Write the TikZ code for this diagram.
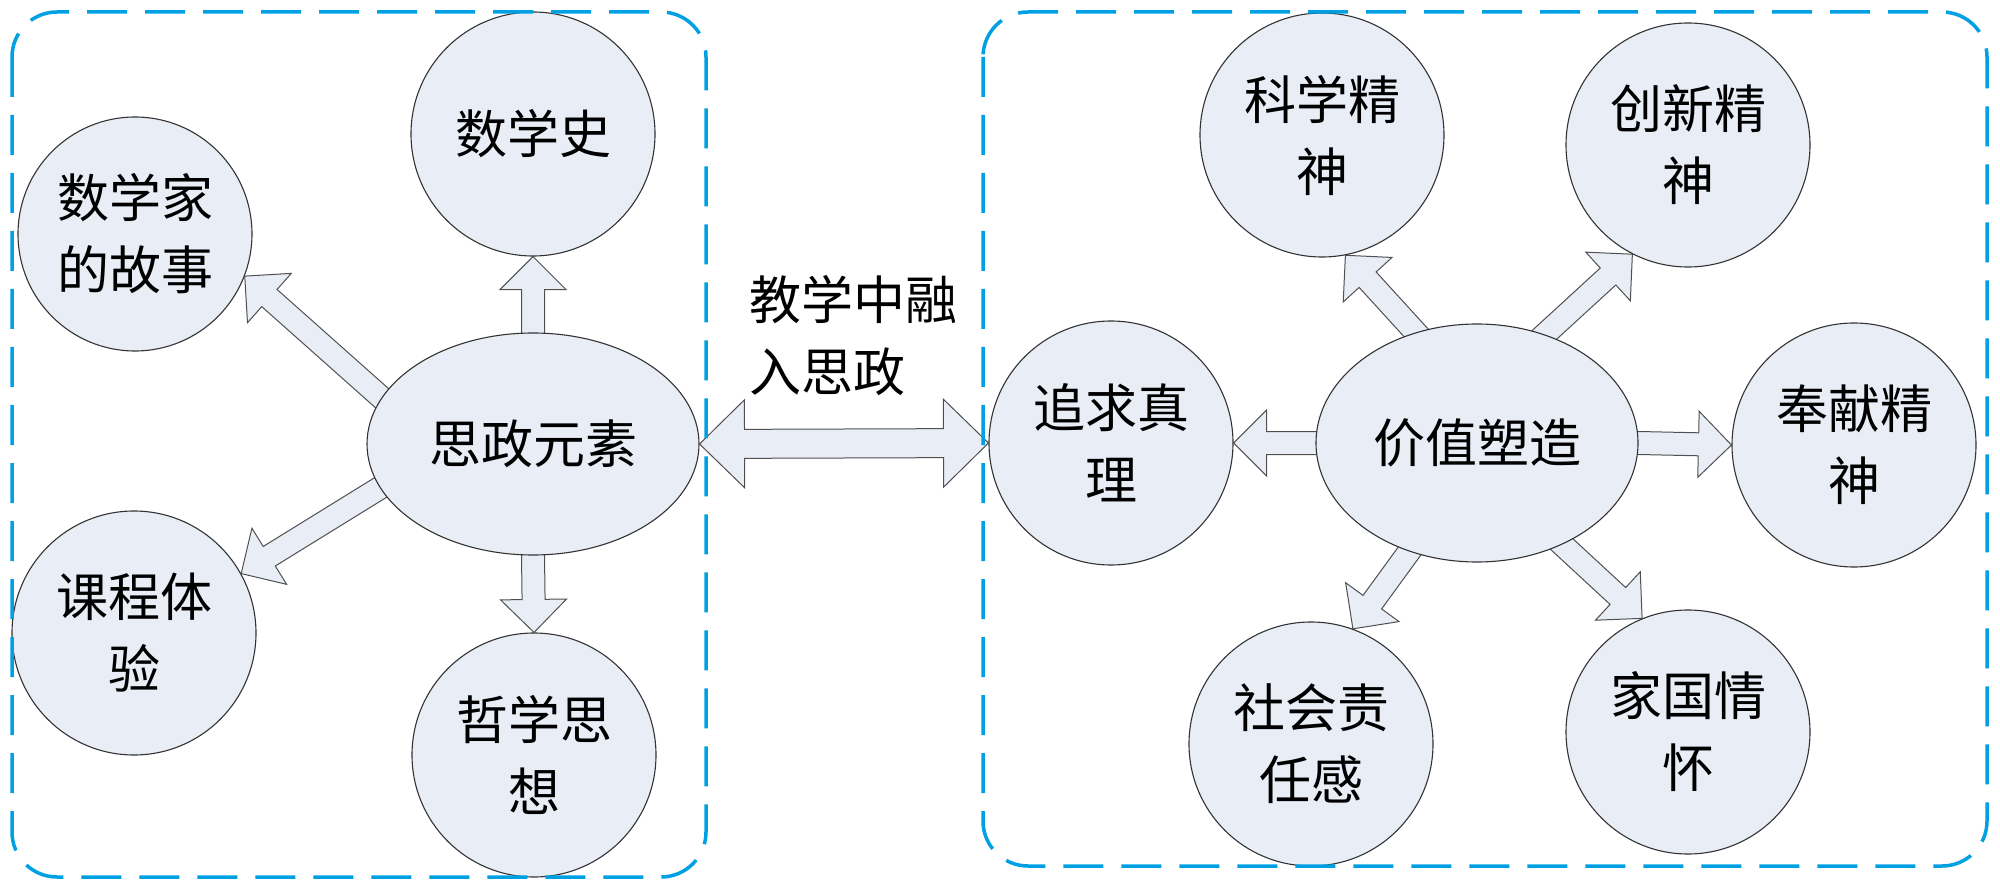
\documentclass[tikz,border=0pt]{standalone}
\usepackage{fontspec}
\newfontfamily\cjkfont{Noto Sans CJK SC}
\usetikzlibrary{shapes.geometric,calc}
\pgfdeclarelayer{bg}
\pgfsetlayers{bg,main}
\definecolor{boxblue}{RGB}{0,160,226}
\definecolor{nodefill}{RGB}{232,237,246}
\definecolor{arrline}{RGB}{80,80,80}
\tikzset{
  bubble/.style={ellipse, draw=black!80, line width=1.1pt, fill=nodefill, inner sep=0pt,
    align=center, font=\cjkfont\fontsize{52}{72}\selectfont},
  groupbox/.style={draw=boxblue, line width=3.5pt, dash pattern=on 40pt off 18pt, rounded corners=45pt},
  blockarrow/.style={draw=arrline, line width=1pt, fill=nodefill, line join=miter},
  caption/.style={font=\cjkfont\fontsize{52}{72}\selectfont, align=left, inner sep=0pt}
}
% single block arrow: start, tip, shaft half width, head half width, head length
\newcommand\blockarr[5]{%
  \coordinate (bas) at ($(#1)!-8pt!(#2)$);
  \coordinate (bah) at ($(#2)!#5!(#1)$);
  \draw[blockarrow] ($(bas)!#3!90:(#2)$) -- ($(bah)!#3!90:(#2)$) -- ($(bah)!#4!90:(#2)$) -- (#2)
    -- ($(bah)!#4!-90:(#2)$) -- ($(bah)!#3!-90:(#2)$) -- ($(bas)!#3!-90:(#2)$) -- cycle;}
% double block arrow: tip a, tip b, shaft half width, head half width, head length
\newcommand\dblarr[5]{%
  \coordinate (dha) at ($(#1)!#5!(#2)$);
  \coordinate (dhb) at ($(#2)!#5!(#1)$);
  \draw[blockarrow] (#1) -- ($(dha)!#4!90:(#2)$) -- ($(dha)!#3!90:(#2)$) -- ($(dhb)!#3!-90:(#1)$)
    -- ($(dhb)!#4!-90:(#1)$) -- (#2) -- ($(dhb)!#4!90:(#1)$) -- ($(dhb)!#3!90:(#1)$)
    -- ($(dha)!#3!-90:(#2)$) -- ($(dha)!#4!-90:(#2)$) -- cycle;}
\begin{document}
\begin{tikzpicture}[x=1pt,y=-1pt]
\useasboundingbox (0,0) rectangle (2000,890);
% left group
\node[bubble, minimum width=332pt, minimum height=222pt] (szys) at (533,444) {思政元素};
\node[bubble, minimum size=244pt] (sxs) at (533,134) {数学史};
\node[bubble, minimum size=234pt] (sxj) at (135,234) {数学家\\的故事};
\node[bubble, minimum size=244pt] (kc) at (134,633) {课程体\\验};
\node[bubble, minimum size=244pt] (zx) at (534,755) {哲学思\\想};
% right group
\node[bubble, minimum size=244pt] (zq) at (1111,443) {追求真\\理};
\node[bubble, minimum width=322pt, minimum height=238pt] (jz) at (1477,443) {价值塑造};
\node[bubble, minimum size=244pt] (kx) at (1322,135) {科学精\\神};
\node[bubble, minimum size=244pt] (cx) at (1688,145) {创新精\\神};
\node[bubble, minimum size=244pt] (fx) at (1854,445) {奉献精\\神};
\node[bubble, minimum size=244pt] (sh) at (1311,744) {社会责\\任感};
\node[bubble, minimum size=244pt] (jg) at (1688,732) {家国情\\怀};
% label
\node[caption, anchor=west] (lbl) at (749,336) {教学中融\\入思政};
% arrows
\begin{pgfonlayer}{bg}
\blockarr{szys.north}{sxs.south}{11.5pt}{33pt}{33pt}
\blockarr{szys.south}{zx.north}{11.5pt}{33pt}{33pt}
\blockarr{szys.163}{sxj.339.3}{11.5pt}{33pt}{33pt}
\blockarr{szys.196}{kc.29}{11.5pt}{33pt}{33pt}
\blockarr{jz.west}{zq.east}{11.5pt}{33pt}{33pt}
\blockarr{jz.east}{fx.west}{11.5pt}{33pt}{33pt}
\blockarr{jz.119.6}{kx.281.4}{11.5pt}{33pt}{33pt}
\blockarr{jz.58.7}{cx.243.4}{11.5pt}{33pt}{33pt}
\blockarr{jz.238.3}{sh.70.2}{11.5pt}{33pt}{33pt}
\blockarr{jz.310.8}{jg.112.7}{11.5pt}{33pt}{33pt}
\end{pgfonlayer}
\dblarr{szys.east}{zq.west}{14.5pt}{44pt}{45pt}
% group boxes
\draw[groupbox] (12,12) rectangle (706,877);
\draw[groupbox] (983,12) rectangle (1987,866);
\end{tikzpicture}
\end{document}
